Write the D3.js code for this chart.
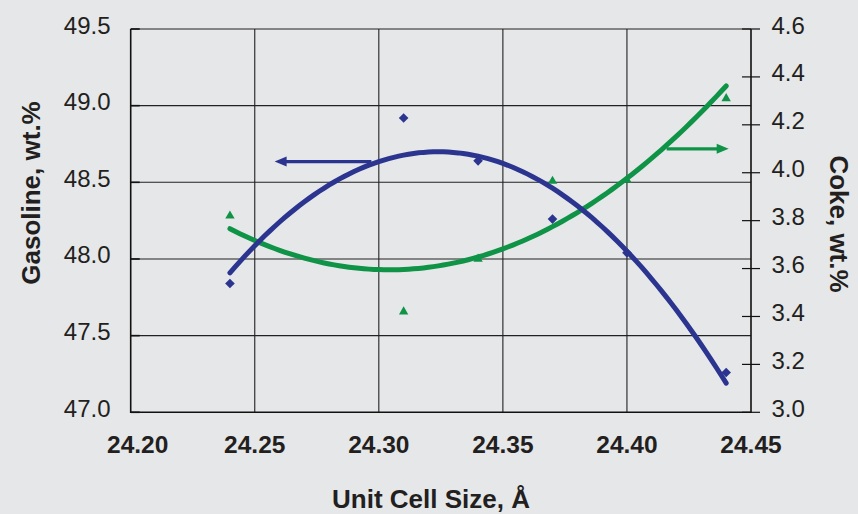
<!DOCTYPE html>
<html><head><meta charset="utf-8">
<script src="https://cdn.jsdelivr.net/npm/d3@7"></script>
<style>
html,body{margin:0;padding:0;background:#e6e7e9;}
svg{display:block;}
text{font-family:"Liberation Sans",Arial,sans-serif;fill:#231f20;}
</style></head><body>
<svg id="c" width="858" height="514"></svg>
<script>
// ---- data ----
const unitCell = [24.24, 24.31, 24.34, 24.37, 24.40, 24.44];
const gasoline = [47.84, 48.92, 48.64, 48.26, 48.04, 47.26];
const coke     = [3.82, 3.42, 3.64, 3.965, 3.97, 4.31];
const xTicks = [24.20, 24.25, 24.30, 24.35, 24.40, 24.45];
const gasTicks = [47.0, 47.5, 48.0, 48.5, 49.0, 49.5];
const cokeTicks = [3.0, 3.2, 3.4, 3.6, 3.8, 4.0, 4.2, 4.4, 4.6];
const xTitle = "Unit Cell Size, Å";
const gasTitle = "Gasoline, wt.%";
const cokeTitle = "Coke, wt.%";
// arrow annotations [fromX, toX, y]
const gasArrow = [24.297, 24.258, 48.635];
const cokeArrow = [24.416, 24.441, 4.10];

const blue = "#2b3590", green = "#0f9347";
const L = 130.7, R = 751, T = 29, B = 412.3;
const svg = d3.select("#c");
const x = d3.scaleLinear().domain([24.20, 24.45]).range([L, R]);
const yG = d3.scaleLinear().domain([47.0, 49.5]).range([B, T]);
const yC = d3.scaleLinear().domain([3.0, 4.6]).range([B, T]);

// grid
svg.append("g").selectAll("line").data(xTicks.slice(1, -1)).join("line")
  .attr("x1", d => x(d)).attr("x2", d => x(d)).attr("y1", T).attr("y2", B)
  .attr("stroke", "#222").attr("stroke-width", 1.1);
svg.append("g").selectAll("line").data(gasTicks.slice(1)).join("line")
  .attr("x1", L).attr("x2", R).attr("y1", d => yG(d)).attr("y2", d => yG(d))
  .attr("stroke", "#222").attr("stroke-width", 1.1);
// frame
svg.append("path").attr("d", `M${L},${T}V${B}H${R}V${T}`).attr("fill", "none")
  .attr("stroke", "#111").attr("stroke-width", 1.6);
// right ticks
svg.append("g").selectAll("line").data(cokeTicks).join("line")
  .attr("x1", R - 9).attr("x2", R + 9).attr("y1", d => yC(d)).attr("y2", d => yC(d))
  .attr("stroke", "#111").attr("stroke-width", 1.2);
// left ticks (inner)
svg.append("g").selectAll("line").data(gasTicks).join("line")
  .attr("x1", L).attr("x2", L + 9).attr("y1", d => yG(d)).attr("y2", d => yG(d))
  .attr("stroke", "#111").attr("stroke-width", 1.6);

// tick labels
svg.append("g").selectAll("text").data(gasTicks).join("text")
  .attr("x", 110.5).attr("y", d => yG(d) + 4.5).attr("text-anchor", "end")
  .attr("font-size", 24).text(d => d.toFixed(1));
svg.append("g").selectAll("text").data(cokeTicks).join("text")
  .attr("x", 771.5).attr("y", d => yC(d) + 4.5).attr("text-anchor", "start")
  .attr("font-size", 24).text(d => d.toFixed(1));
svg.append("g").selectAll("text").data(xTicks).join("text")
  .attr("x", (d, i) => x(d) + (i === 0 ? 7 : 0)).attr("y", 453).attr("text-anchor", "middle")
  .attr("font-size", 24.5).attr("font-weight", "bold").text(d => d.toFixed(2));

// titles
svg.append("text").attr("x", 431).attr("y", 507.5).attr("text-anchor", "middle")
  .attr("font-size", 26).attr("font-weight", "bold").text(xTitle);
svg.append("text").attr("transform", "translate(40,193) rotate(-90)").attr("text-anchor", "middle")
  .attr("font-size", 26).attr("font-weight", "bold").text(gasTitle);
svg.append("text").attr("transform", "translate(830,224) rotate(90)").attr("text-anchor", "middle")
  .attr("font-size", 26).attr("font-weight", "bold").text(cokeTitle);

// quadratic least squares fit
function quadFit(xs, ys) {
  const x0 = d3.mean(xs);
  const u = xs.map(v => v - x0);
  const S = k => d3.sum(u, v => Math.pow(v, k));
  const Sy = k => d3.sum(u, (v, i) => Math.pow(v, k) * ys[i]);
  const A = [[xs.length, S(1), S(2)], [S(1), S(2), S(3)], [S(2), S(3), S(4)]];
  const b = [Sy(0), Sy(1), Sy(2)];
  for (let i = 0; i < 3; i++) {
    for (let j = i + 1; j < 3; j++) {
      const f = A[j][i] / A[i][i];
      for (let k = i; k < 3; k++) A[j][k] -= f * A[i][k];
      b[j] -= f * b[i];
    }
  }
  const c = [0, 0, 0];
  for (let i = 2; i >= 0; i--) {
    let s = b[i];
    for (let k = i + 1; k < 3; k++) s -= A[i][k] * c[k];
    c[i] = s / A[i][i];
  }
  return v => c[0] + c[1] * (v - x0) + c[2] * (v - x0) * (v - x0);
}
const fG = quadFit(unitCell, gasoline);
const fC = quadFit(unitCell, coke);
const xs = d3.range(0, 101).map(i => unitCell[0] + (unitCell[unitCell.length - 1] - unitCell[0]) * i / 100);

// markers
svg.append("g").selectAll("path").data(unitCell).join("path")
  .attr("transform", (d, i) => `translate(${x(d)},${yC(coke[i])})`)
  .attr("d", d3.symbol(d3.symbolTriangle, 38)).attr("fill", green);
svg.append("g").selectAll("path").data(unitCell).join("path")
  .attr("transform", (d, i) => `translate(${x(d)},${yG(gasoline[i])}) rotate(45)`)
  .attr("d", d3.symbol(d3.symbolSquare, 46)).attr("fill", blue);

// curves
svg.append("path").datum(xs).attr("fill", "none").attr("stroke", green).attr("stroke-width", 5)
  .attr("stroke-linecap", "round")
  .attr("d", d3.line().x(d => x(d)).y(d => yC(fC(d))));
svg.append("path").datum(xs).attr("fill", "none").attr("stroke", blue).attr("stroke-width", 5)
  .attr("stroke-linecap", "round")
  .attr("d", d3.line().x(d => x(d)).y(d => yG(fG(d))));

// arrows
function arrow(x1, x2, yy, color) {
  const dir = Math.sign(x2 - x1);
  svg.append("line").attr("x1", x1).attr("x2", x2 - dir * 8).attr("y1", yy).attr("y2", yy)
    .attr("stroke", color).attr("stroke-width", 3.2);
  svg.append("path").attr("d", `M${x2},${yy}L${x2 - dir * 12},${yy - 5}L${x2 - dir * 12},${yy + 5}Z`)
    .attr("fill", color);
}
arrow(x(gasArrow[0]), x(gasArrow[1]), yG(gasArrow[2]), blue);
arrow(x(cokeArrow[0]), x(cokeArrow[1]), yC(cokeArrow[2]), green);
</script></body></html>
